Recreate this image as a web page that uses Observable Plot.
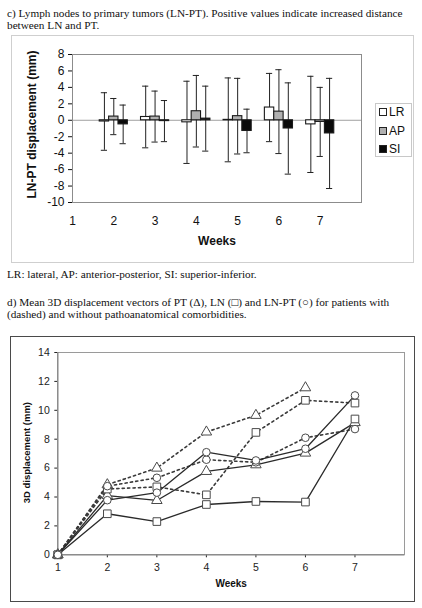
<!DOCTYPE html>
<html>
<head>
<meta charset="utf-8">
<script src="https://cdn.jsdelivr.net/npm/d3@7"></script>
<script src="https://cdn.jsdelivr.net/npm/@observablehq/plot@0.6"></script>
<style>
  html, body { margin: 0; padding: 0; background: #fff; }
  #page { position: relative; width: 422px; height: 608px; overflow: hidden; background: #fff; }
  .cap { position: absolute; left: 7px; font-family: "Liberation Serif", "Times New Roman", serif; font-size: 11.25px; line-height: 12px; white-space: nowrap; color: #111; }
  .frame { position: absolute; box-sizing: border-box; }
  .chart { position: absolute; }
  .legend { position: absolute; box-sizing: border-box; border: 1px solid #c8c8c8; font-family: "Liberation Sans", Arial, sans-serif; font-size: 12px; color: #111; }
  .legend .row { position: absolute; left: 3px; height: 12px; line-height: 12px; white-space: nowrap; }
  .legend .sw { display: inline-block; width: 6px; height: 6px; border: 1px solid #222; vertical-align: middle; margin-right: 2px; position: relative; top: -1px; }
</style>
</head>
<body>
<div id="page">
  <div class="cap" style="top:7px">c) Lymph nodes to primary tumors (LN-PT). Positive values indicate increased distance<br>between LN and PT.</div>
  <div class="frame" style="left:11px;top:35px;width:403px;height:228px;border:1px solid #cfcfcf"></div>
  <div class="chart" id="top" style="left:11px;top:35px"></div>
  <div class="legend" id="legend" style="left:375px;top:103px;width:37px;height:54px"></div>
  <div class="cap" style="top:268px">LR: lateral, AP: anterior-posterior, SI: superior-inferior.</div>
  <div class="cap" style="top:296px">d) Mean 3D displacement vectors of PT (Δ), LN (□) and LN-PT (○) for patients with<br>(dashed) and without pathoanatomical comorbidities.</div>
  <div class="frame" style="left:10px;top:336px;width:405px;height:266px;border:1.5px solid #4a4a4a"></div>
  <div class="chart" id="bottom" style="left:10px;top:337px"></div>
</div>
<script>
// ---------- Data: chart c (bars with error bars) ----------
const weeks = [1, 2, 3, 4, 5, 6, 7];
const seriesNames = ["LR", "AP", "SI"];
const lrMean = [0, -0.15, 0.4, -0.25, 0.05, 1.55, -0.5];
const lrErr  = [0, 3.5, 3.75, 5.0, 5.1, 4.15, 5.85];
const apMean = [0, 0.45, 0.45, 1.1, 0.5, 1.05, -0.2];
const apErr  = [0, 2.2, 3.1, 4.35, 4.6, 5.1, 4.2];
const siMean = [0, -0.5, -0.1, 0.2, -1.3, -1.0, -1.6];
const siErr  = [0, 2.35, 2.5, 3.95, 2.65, 5.55, 6.7];
const yTicksC = [-10, -8, -6, -4, -2, 0, 2, 4, 6, 8];

// ---------- Data: chart d (3D displacement lines) ----------
const ptDashed   = [0, 4.85, 6.0, 8.5, 9.65, 11.56];
const lnDashed   = [0, 4.55, 4.7, 4.15, 8.47, 10.69, 10.5];
const lnptDashed = [0, 4.75, 5.33, 6.58, 6.4, 8.1, 8.7];
const ptSolid    = [0, 4.1, 3.76, 5.77, 6.23, 7.04, 9.15];
const lnSolid    = [0, 2.84, 2.3, 3.48, 3.69, 3.65, 9.4];
const lnptSolid  = [0, 3.78, 4.3, 7.1, 6.53, 7.34, 11.03];
const yTicksD = [0, 2, 4, 6, 8, 10, 12, 14];

// ---------- Chart c ----------
const fills = {LR: "#ffffff", AP: "#b0b0b0", SI: "#0a0a0a"};
const bw = 0.227; // bar width in week units
const meanBy = {LR: lrMean, AP: apMean, SI: siMean};
const errBy = {LR: lrErr, AP: apErr, SI: siErr};
const barRows = [];
seriesNames.forEach((s, k) => {
  weeks.forEach((w, i) => {
    const c = w + (k - 1) * bw;
    barRows.push({week: w, series: s, cx: c, x1: c - bw / 2, x2: c + bw / 2,
      mean: meanBy[s][i], lo: meanBy[s][i] - errBy[s][i], hi: meanBy[s][i] + errBy[s][i], err: errBy[s][i]});
  });
});
const errRows = barRows.filter(d => d.err > 0);
const capHalf = 0.075;

const font = "'Liberation Sans', Arial, Helvetica, sans-serif";
const topChart = Plot.plot({
  width: 403, height: 228,
  marginLeft: 61, marginRight: 53, marginTop: 19, marginBottom: 61,
  style: {background: "none", fontFamily: font, fontSize: "12px", color: "#111"},
  x: {domain: [1, 8], ticks: weeks, tickFormat: d => String(d), tickSize: 0, tickPadding: 14, label: null},
  y: {domain: [-10, 8], ticks: yTicksC, tickFormat: d => String(d), tickSize: 4, tickPadding: 4, label: null},
  marks: [
    Plot.ruleY([0], {stroke: "#a0a0a0", strokeWidth: 1}),
    Plot.frame({stroke: "#8c8c8c", strokeWidth: 1}),
    Plot.ruleX(errRows, {x: "cx", y1: "lo", y2: "hi", stroke: "#222", strokeWidth: 1}),
    Plot.ruleY(errRows, {y: "hi", x1: d => d.cx - capHalf, x2: d => d.cx + capHalf, stroke: "#222", strokeWidth: 1}),
    Plot.ruleY(errRows, {y: "lo", x1: d => d.cx - capHalf, x2: d => d.cx + capHalf, stroke: "#222", strokeWidth: 1}),
    Plot.rect(barRows, {x1: "x1", x2: "x2", y1: 0, y2: "mean", fill: d => fills[d.series], stroke: "#1a1a1a", strokeWidth: 1.1, clip: true}),
    Plot.text(["LN-PT displacement (mm)"], {text: d => d, frameAnchor: "left", textAnchor: "middle", dx: -40, dy: -4, rotate: -90, fontWeight: "bold", fontSize: 12, fill: "#111"}),
    Plot.text(["Weeks"], {text: d => d, frameAnchor: "bottom", textAnchor: "middle", dy: 42, fontWeight: "bold", fontSize: 12, fill: "#111"})
  ]
});
document.getElementById("top").appendChild(topChart);

// Legend
const legend = document.getElementById("legend");
const rowTops = [2, 21, 39];
seriesNames.forEach((s, i) => {
  const row = document.createElement("div");
  row.className = "row";
  row.style.top = rowTops[i] + "px";
  row.innerHTML = `<span class="sw" style="background:${fills[s]}"></span>${s}`;
  legend.appendChild(row);
});

// ---------- Chart d ----------
const lineSeries = [
  {name: "PT", shape: "triangle", dashed: true, values: ptDashed},
  {name: "LN", shape: "square", dashed: true, values: lnDashed},
  {name: "LN-PT", shape: "circle", dashed: true, values: lnptDashed},
  {name: "PT", shape: "triangle", dashed: false, values: ptSolid},
  {name: "LN", shape: "square", dashed: false, values: lnSolid},
  {name: "LN-PT", shape: "circle", dashed: false, values: lnptSolid}
];
const pts = [];
lineSeries.forEach((s, j) => {
  s.values.forEach((v, i) => pts.push({id: j, name: s.name, shape: s.shape, dashed: s.dashed, week: weeks[i], value: v}));
});
const markerStyle = {fill: "white", stroke: "#4a4a4a", strokeWidth: 1};

const bottomChart = Plot.plot({
  width: 404, height: 264,
  marginLeft: 47.3, marginRight: 10, marginTop: 15, marginBottom: 46.7,
  style: {background: "none", fontFamily: font, fontSize: "10.5px", color: "#222"},
  x: {domain: [1, 8], ticks: weeks, tickFormat: d => String(d), tickSize: 3, tickPadding: 6, label: null},
  y: {domain: [0, 14], ticks: yTicksD, tickFormat: d => String(d), tickSize: 3, tickPadding: 5, label: null},
  marks: [
    Plot.frame({stroke: "#9a9a9a", strokeWidth: 1}),
    Plot.ruleX([1], {stroke: "#7a7a7a", strokeWidth: 1}),
    Plot.ruleY([0], {stroke: "#7a7a7a", strokeWidth: 1}),
    Plot.line(pts.filter(d => d.dashed), {x: "week", y: "value", z: "id", stroke: "#3a3a3a", strokeWidth: 1.6, strokeDasharray: "2.2,3.2"}),
    Plot.line(pts.filter(d => !d.dashed), {x: "week", y: "value", z: "id", stroke: "#2a2a2a", strokeWidth: 1.3}),
    Plot.dot(pts.filter(d => d.shape === "triangle"), {x: "week", y: "value", symbol: "triangle", r: 3.9, ...markerStyle}),
    Plot.dot(pts.filter(d => d.shape === "square"), {x: "week", y: "value", symbol: "square", r: 4.3, ...markerStyle}),
    Plot.dot(pts.filter(d => d.shape === "circle"), {x: "week", y: "value", symbol: "circle", r: 3.8, ...markerStyle}),
    Plot.text(["3D displacement (mm)"], {text: d => d, frameAnchor: "left", textAnchor: "middle", dx: -31, dy: -1, rotate: -90, fontWeight: "bold", fontSize: 9.5, fill: "#111"}),
    Plot.text(["Weeks"], {text: d => d, frameAnchor: "bottom", textAnchor: "middle", dy: 32, fontWeight: "bold", fontSize: 10, fill: "#111"})
  ]
});
document.getElementById("bottom").appendChild(bottomChart);
</script>
</body>
</html>
